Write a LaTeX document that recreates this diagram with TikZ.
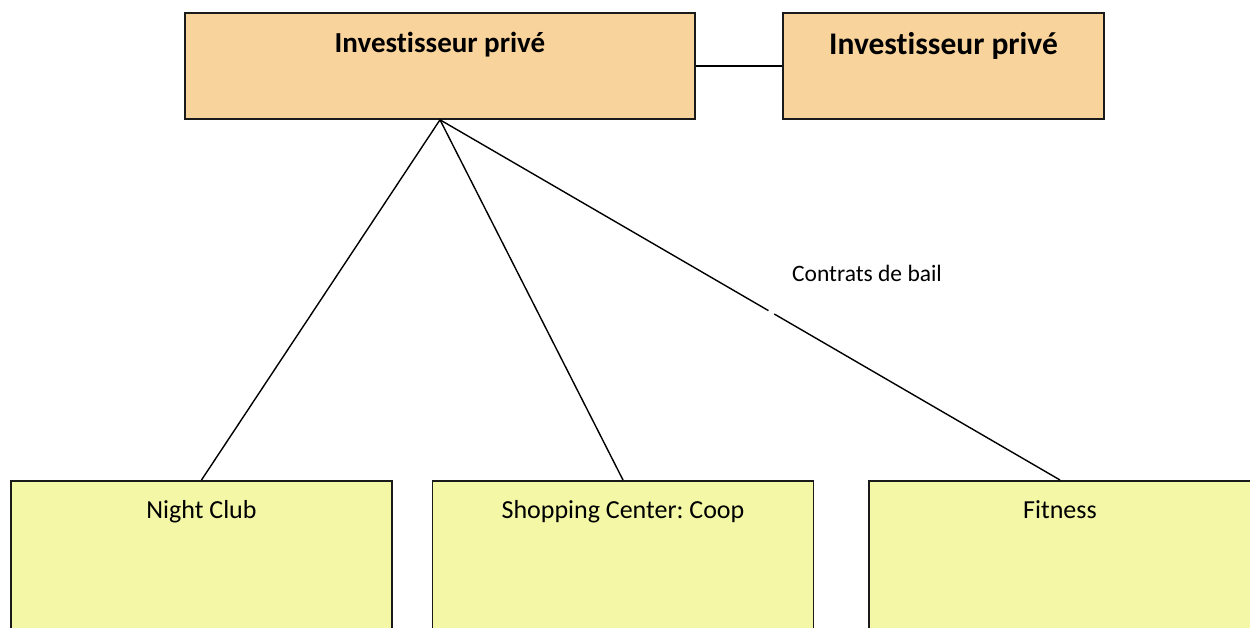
\documentclass[tikz,border=0pt]{standalone}
\usepackage{fontspec}
\setmainfont{Carlito}[Ligatures=NoCommon]
\usetikzlibrary{calc}
\definecolor{invfill}{HTML}{F9D39C}
\definecolor{tenantfill}{HTML}{F3F7A6}
\definecolor{edgegray}{HTML}{1A1A1A}
\frenchspacing
\begin{document}
\begin{tikzpicture}[x=1pt,y=-1pt,
  investor/.style={draw=edgegray, line width=1.6pt, fill=invfill, rectangle, inner sep=0pt},
  tenant/.style={draw=edgegray, line width=1.6pt, fill=tenantfill, rectangle, inner sep=0pt,
    minimum width=381pt, minimum height=260pt},
  link/.style={draw=black, line width=1.4pt},
  boxtext/.style={inner sep=0pt, anchor=base}
]
\useasboundingbox (0,0) rectangle (1250,628);
\clip (0,0) rectangle (1250,628);

% investors
\node[investor, minimum width=510pt, minimum height=106pt] (inv) at (440,66) {};
\node[investor, minimum width=321pt, minimum height=106pt] (inv2) at (943.5,66) {};
\node[boxtext, font=\bfseries\fontsize{29}{34}\selectfont] (invtxt) at ([yshift=13pt]inv.center) {Investisseur privé};
\node[boxtext, font=\bfseries\fontsize{31.5}{36}\selectfont] (inv2txt) at ([yshift=11pt]inv2.center) {Investisseur privé};

% tenants
\node[tenant, anchor=north] (nc) at (201.5,480) {};
\node[tenant, anchor=north] (sc) at (623,480) {};
\node[tenant, anchor=north, minimum width=382pt] (fit) at (1060,480) {};
\node[boxtext, font=\fontsize{26}{30}\selectfont] (nctxt) at ([yshift=-38pt]nc.north) {Night Club};
\node[boxtext, font=\fontsize{26}{30}\selectfont] (sctxt) at ([yshift=-38pt]sc.north) {Shopping Center: Coop};
\node[boxtext, font=\fontsize{26}{30}\selectfont] (fittxt) at ([yshift=-38pt]fit.north) {Fitness};

% connectors
\draw[link] (inv.east) -- (inv2.west);
\draw[link] (inv.south) -- (nc.north);
\draw[link] (inv.south) -- (sc.north);
\draw[link] (inv.south) -- (fit.north);
\draw[white, line width=3pt] ($(inv.south)!0.530!(fit.north)$) -- ($(inv.south)!0.539!(fit.north)$);
\node[boxtext, font=\fontsize{23.5}{28}\selectfont] (lease) at (867,282) {Contrats de bail};
\end{tikzpicture}
\end{document}
